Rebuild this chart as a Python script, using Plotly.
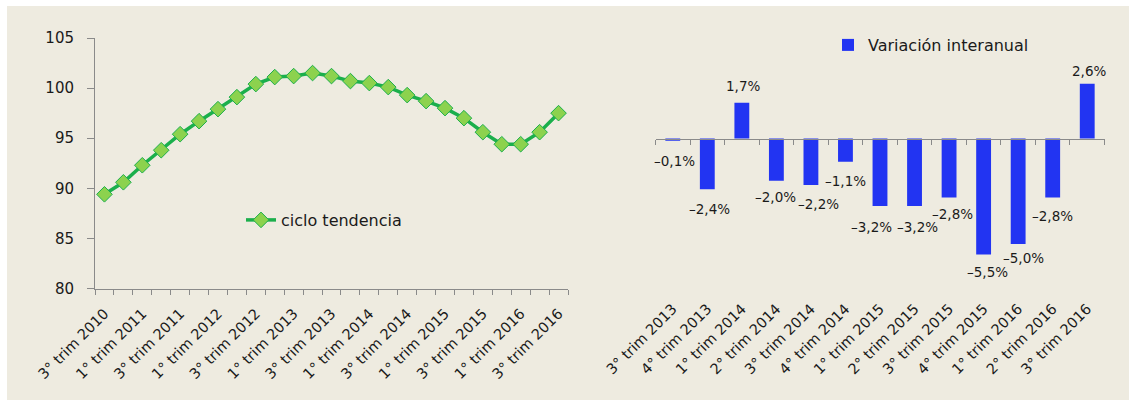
import plotly.graph_objects as go

# ---------------- data ----------------
line_cats = [
    "3° trim 2010", "4° trim 2010", "1° trim 2011", "2° trim 2011", "3° trim 2011",
    "4° trim 2011", "1° trim 2012", "2° trim 2012", "3° trim 2012", "4° trim 2012",
    "1° trim 2013", "2° trim 2013", "3° trim 2013", "4° trim 2013", "1° trim 2014",
    "2° trim 2014", "3° trim 2014", "4° trim 2014", "1° trim 2015", "2° trim 2015",
    "3° trim 2015", "4° trim 2015", "1° trim 2016", "2° trim 2016", "3° trim 2016",
]
trend = [89.4, 90.6, 92.3, 93.8, 95.4, 96.7, 97.9, 99.1, 100.4, 101.1,
         101.2, 101.5, 101.2, 100.7, 100.5, 100.1, 99.3, 98.7, 98.0, 97.0,
         95.6, 94.4, 94.4, 95.6, 97.5]
line_name = "ciclo tendencia"

bar_cats = [
    "3° trim 2013", "4° trim 2013", "1° trim 2014", "2° trim 2014", "3° trim 2014",
    "4° trim 2014", "1° trim 2015", "2° trim 2015", "3° trim 2015", "4° trim 2015",
    "1° trim 2016", "2° trim 2016", "3° trim 2016",
]
yoy = [-0.1, -2.4, 1.7, -2.0, -2.2, -1.1, -3.2, -3.2, -2.8, -5.5, -5.0, -2.8, 2.6]
bar_name = "Variación interanual"

left_yticks = [80, 85, 90, 95, 100, 105]

# ---------------- style ----------------
W, H = 1129, 400
FONT = "DejaVu Sans"
TXT = "#1a1a1a"
AX = "#8a8a8a"
BG = "#EEEBE0"
GREEN = "#1BAF4C"
LIGHT = "#8CD24E"
BLUE = "#2234F2"

# pixel nudges of the value labels, as placed in the source layout
label_dx = [2, 2, 1, -1, 8, 0, -9, 3, 3, 4, 5, 0, 2]
label_dy = [-20, -20, 17, -16, -19, -19, -21, -21, -16, -17, -14, -18, 13]

def px_x(p):
    return p / W

def px_y(p):
    return 1 - p / H

ydom = [px_y(288.5), px_y(38)]
xdom1 = [px_x(95), px_x(568)]
xdom2 = [px_x(655.5), px_x(1104.5)]

r_lo, r_hi = -7.11, 4.765
zero_pos = ydom[0] + (0 - r_lo) / (r_hi - r_lo) * (ydom[1] - ydom[0])

def fmt(v):
    s = f"{abs(v):.1f}".replace(".", ",") + "%"
    return ("–" + s) if v < 0 else s

fig = go.Figure()

fig.add_trace(go.Scatter(
    x=line_cats, y=trend, name=line_name, mode="lines+markers",
    line=dict(color=GREEN, width=3.5),
    marker=dict(symbol="diamond", size=12, color=LIGHT, line=dict(color=GREEN, width=1)),
    xaxis="x", yaxis="y", legend="legend", hoverinfo="x+y",
))

fig.add_trace(go.Bar(
    x=bar_cats, y=yoy, name=bar_name, marker=dict(color=BLUE, line=dict(width=0)),
    width=0.43, xaxis="x2", yaxis="y2", legend="legend2",
))

# zero line carrier (for the axis drawn at y = 0)
n = len(bar_cats)
bounds = [i - 0.5 for i in range(n + 1)]
fig.add_trace(go.Scatter(
    x=[bounds[0], bounds[-1]], y=[0, 0], mode="lines", line=dict(width=0),
    xaxis="x3", yaxis="y2", showlegend=False, hoverinfo="skip",
))

annotations = []
for c, v, dx, dy in zip(bar_cats, yoy, label_dx, label_dy):
    annotations.append(dict(
        x=c, y=v, xref="x2", yref="y2", text=fmt(v), showarrow=False,
        xshift=dx, yshift=dy,
        font=dict(family=FONT, size=13.5, color=TXT),
    ))

fig.update_layout(
    width=W, height=H,
    margin=dict(l=0, r=0, t=0, b=0, autoexpand=False),
    paper_bgcolor="white", plot_bgcolor="rgba(0,0,0,0)",
    font=dict(family=FONT, size=14, color=TXT),
    showlegend=True,
    shapes=[dict(type="rect", xref="paper", yref="paper", x0=px_x(7), x1=1,
                 y0=0, y1=px_y(6), fillcolor=BG, line=dict(width=0), layer="below")],
    annotations=annotations,
    xaxis=dict(
        domain=xdom1, anchor="y", type="category", automargin=False,
        range=[-0.5, len(line_cats) - 0.5],
        tickmode="array", tickvals=line_cats,
        ticktext=[c if i % 2 == 0 else "" for i, c in enumerate(line_cats)],
        tickangle=-45, tickson="boundaries", ticks="outside", ticklen=5,
        ticklabelstandoff=10,
        tickcolor=AX, showline=True, linecolor=AX, linewidth=1,
        showgrid=False, zeroline=False, tickfont=dict(size=14.5),
    ),
    yaxis=dict(
        domain=ydom, anchor="x", range=[80, 105], tickvals=left_yticks, automargin=False,
        ticks="outside", ticklen=7, tickcolor=AX, showline=True, linecolor=AX,
        ticklabelstandoff=10,
        linewidth=1, showgrid=False, zeroline=False, tickfont=dict(size=15),
    ),
    xaxis2=dict(
        domain=xdom2, anchor="y2", type="category", range=[-0.5, n - 0.5],
        automargin=False, ticklabelstandoff=8,
        tickangle=-45, ticks="", showline=False, showgrid=False, zeroline=False,
        tickfont=dict(size=14.5),
    ),
    yaxis2=dict(
        domain=ydom, anchor="x2", range=[r_lo, r_hi], visible=False, automargin=False,
        showgrid=False, zeroline=False,
    ),
    xaxis3=dict(
        overlaying="x2", anchor="free", position=zero_pos, range=[bounds[0], bounds[-1]],
        automargin=False,
        tickmode="array", tickvals=bounds, showticklabels=False, ticks="outside",
        ticklen=5, tickcolor=AX, showline=True, linecolor=AX, linewidth=1,
        showgrid=False, zeroline=False,
    ),
    legend=dict(
        x=px_x(241), y=px_y(220), xanchor="left", yanchor="middle",
        bgcolor="rgba(0,0,0,0)", font=dict(size=16), itemwidth=30,
    ),
    legend2=dict(
        x=px_x(828), y=px_y(45), xanchor="left", yanchor="middle",
        bgcolor="rgba(0,0,0,0)", font=dict(size=16), itemwidth=30,
    ),
)

fig.write_html(
    "out.html",
    config={"displayModeBar": False},
    post_script="document.body.style.margin='0';document.body.style.padding='0';",
)
